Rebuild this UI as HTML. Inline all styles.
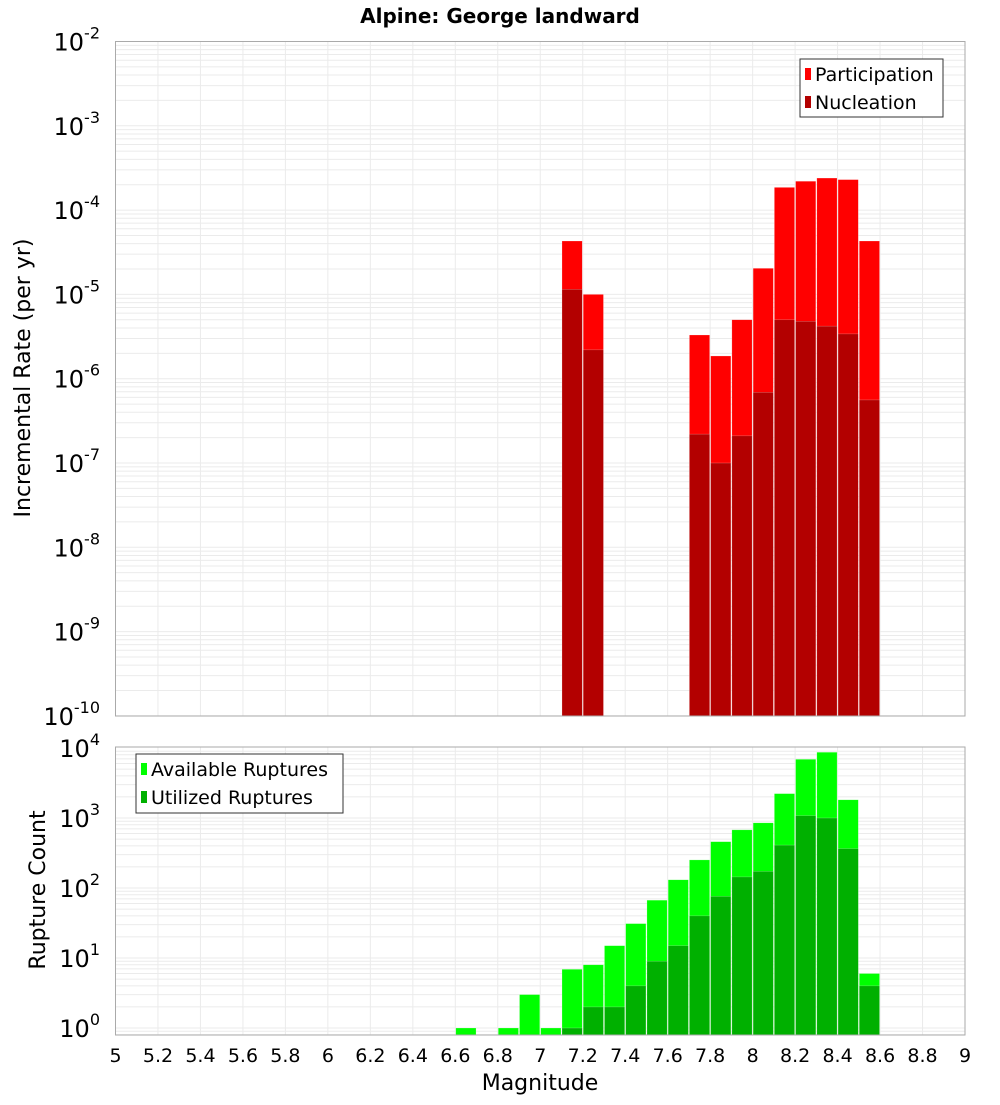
<!DOCTYPE html>
<html><head><meta charset="utf-8"><style>
body{margin:0;background:#fff}
svg text{font-family:"DejaVu Sans","Liberation Sans",sans-serif}
</style></head><body>
<svg id="c" width="1000" height="1100" xmlns="http://www.w3.org/2000/svg">
<text x="500" y="23" text-anchor="middle" font-size="20" font-weight="bold">Alpine: George landward</text>
<text transform="translate(30,378) rotate(-90)" text-anchor="middle" font-size="22">Incremental Rate (per yr)</text>
<text transform="translate(45,890) rotate(-90)" text-anchor="middle" font-size="22">Rupture Count</text>
<text x="540" y="1090" text-anchor="middle" font-size="22">Magnitude</text>
<g id="topPanel"></g>
<g id="botPanel"></g>
</svg>
<script>
const mags=[6.6,6.8,6.9,7.0,7.1,7.2,7.3,7.4,7.5,7.6,7.7,7.8,7.9,8.0,8.1,8.2,8.3,8.4,8.5];
const rateMags=[7.1,7.2,7.7,7.8,7.9,8.0,8.1,8.2,8.3,8.4,8.5];
const participation=[4.3e-5,1.0e-5,3.3e-6,1.86e-6,5e-6,2.04e-5,1.86e-4,2.2e-4,2.4e-4,2.3e-4,4.3e-5];
const nucleation=[1.15e-5,2.2e-6,2.2e-7,1e-7,2.1e-7,6.9e-7,5e-6,4.8e-6,4.2e-6,3.4e-6,5.6e-7];
const available=[1,1,3,1,6.9,8,15,31,67,131,252,459,677,853,2230,6900,8700,1820,6];
const utilized=[0,0,0,0,1,2,2,4,9,15,40,76,144,173,410,1080,1000,365,4];
const xTicks=["5","5.2","5.4","5.6","5.8","6","6.2","6.4","6.6","6.8","7","7.2","7.4","7.6","7.8","8","8.2","8.4","8.6","8.8","9"];
const topExp=[-2,-3,-4,-5,-6,-7,-8,-9,-10];
const botExp=[0,1,2,3,4];

const NS="http://www.w3.org/2000/svg";
const L=115.5,R=965;
const xs=m=>L+(m-5)*(R-L)/4;
const yTop=v=>41.5-84.3*(Math.log10(v)+2);
const yBot=v=>1028-70*Math.log10(v);
function mk(p,t,a){const e=document.createElementNS(NS,t);for(const k in a)e.setAttribute(k,a[k]);p.appendChild(e);return e;}
function panel(g,y0,y1,ys,lo,hi,name){
  for(let d=lo;d<hi;d++)for(let k=1;k<10;k++){const y=ys(k*Math.pow(10,d));if(y<y0-0.5||y>y1+0.5)continue;
    const ln=mk(g,'line',{x1:L,x2:R,y1:y,y2:y,stroke:'#ebebeb','stroke-width':1});
    
    }
  xTicks.forEach(t=>{const x=xs(+t);const ln=mk(g,'line',{x1:x,x2:x,y1:y0,y2:y1,stroke:'#ebebeb','stroke-width':1});
    
    });
}
function frame(g,y0,y1,name){const r=mk(g,'rect',{x:L,y:y0,width:R-L,height:y1-y0,fill:'none',stroke:'#aaa','stroke-width':1});
  
  }
function bar(g,m,v,ys,yb,fill,name){if(!v)return;const x=xs(m)+0.5,w=xs(m+0.1)-xs(m)-1,y=Math.max(ys(v),0);
  const r=mk(g,'rect',{x:x,y:y,width:w,height:yb-y,fill:fill,stroke:'rgba(255,255,255,0.4)','stroke-width':0.5});
  
  }
function expLabel(g,x,y,e,name){const t=mk(g,'text',{x:x,y:y,'text-anchor':'end','font-size':24});
  
  
  t.textContent='10';const s=mk(t,'tspan',{dy:-12,'font-size':16});s.textContent=String(e);}
const topG=document.getElementById('topPanel'),botG=document.getElementById('botPanel');
panel(topG,41.5,716,yTop,-10,-2,'top');
rateMags.forEach((m,i)=>bar(topG,m,participation[i],yTop,716,'#ff0000','participation-bar'));
rateMags.forEach((m,i)=>bar(topG,m,nucleation[i],yTop,716,'#b30000','nucleation-bar'));
frame(topG,41.5,716,'top');
topExp.forEach(e=>expLabel(topG,100,yTop(Math.pow(10,e))+9,e,'top-y-tick'));
panel(botG,747,1035,yBot,-1,4,'bottom');
mags.forEach((m,i)=>bar(botG,m,available[i],yBot,1035,'#00ff00','available-bar'));
mags.forEach((m,i)=>bar(botG,m,utilized[i],yBot,1035,'#00b000','utilized-bar'));
frame(botG,747,1035,'bottom');
botExp.forEach(e=>expLabel(botG,100,yBot(Math.pow(10,e))+9,e,'bottom-y-tick'));
xTicks.forEach(t=>{const tx=mk(botG,'text',{x:xs(+t),y:1062,'text-anchor':'middle','font-size':19});
  
  
  tx.textContent=t;});
function legend(g,x,y,w,h,items,name){const gg=mk(g,'g',{});
  
  
  mk(gg,'rect',{x:x,y:y,width:w,height:h,fill:'#fff',stroke:'#333','stroke-width':1});
  items.forEach((it,i)=>{const cy=y+15+i*28;mk(gg,'rect',{x:x+5,y:cy-6,width:6,height:12,fill:it[1]});
    const t=mk(gg,'text',{x:x+15,y:cy+7,'font-size':19});
    
    
    t.textContent=it[0];});}
legend(topG,800,59,143,58,[["Participation","#ff0000"],["Nucleation","#b30000"]],'top-legend');
legend(botG,136,754,207,59,[["Available Ruptures","#00ff00"],["Utilized Ruptures","#00b000"]],'bottom-legend');
</script>
</body></html>
